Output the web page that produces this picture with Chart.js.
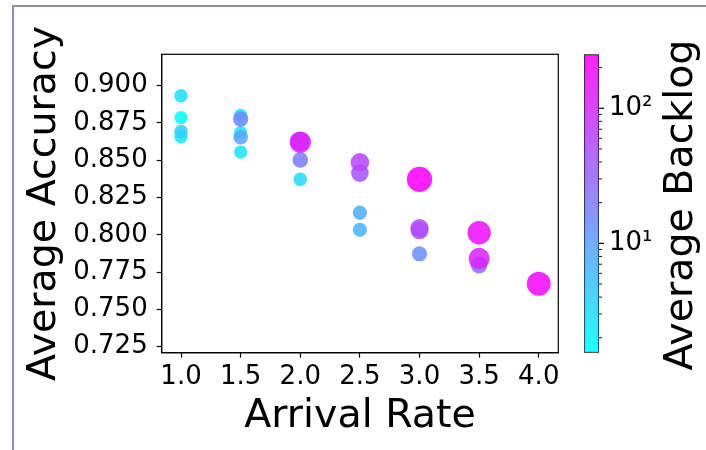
<!DOCTYPE html>
<html>
<head>
<meta charset="utf-8">
<script src="https://cdn.jsdelivr.net/npm/chart.js@4"></script>
<style>
html,body{margin:0;padding:0;background:#fff;}
#wrap{position:relative;width:706px;height:450px;overflow:hidden;background:#fff;}
#frame{position:absolute;left:12px;top:5px;width:720px;height:470px;border-left:2px solid #8a93a5;border-top:2px solid #8a93a5;}
canvas{position:absolute;left:0;top:0;}
</style>
</head>
<body>
<div id="wrap">
<div id="frame"></div>
<canvas id="main" width="706" height="450"></canvas>
<canvas id="cbar" width="706" height="450"></canvas>
</div>
<script>
// ---- data ----
const arrivalRate = [1.0, 1.5, 1.0, 1.5, 1.5, 1.0, 2.0, 1.0, 2.5, 2.5, 1.5, 3.0, 1.5, 2.0, 3.5, 2.5, 3.0, 3.0, 2.5, 2.0, 3.5, 2.0, 3.5, 4.0, 3.0];
const accuracy    = [0.8786, 0.8801, 0.8658, 0.8685, 0.8555, 0.8933, 0.8372, 0.8692, 0.8034, 0.8148, 0.8654, 0.7873, 0.8777, 0.8502, 0.7798, 0.8414, 0.8030, 0.8045, 0.8486, 0.8625, 0.7842, 0.8622, 0.8014, 0.7672, 0.8372];
const backlog     = [1.55, 2.2, 2.6, 2.6, 2.6, 3.0, 3.2, 3.8, 6.8, 7.5, 9.0, 14, 16, 20, 33, 45, 48, 55, 60, 70, 118, 125, 180, 200, 251];

const xTickValues = [1.0, 1.5, 2.0, 2.5, 3.0, 3.5, 4.0];
const yTickValues = [0.725, 0.750, 0.775, 0.800, 0.825, 0.850, 0.875, 0.900];
const cbarMajor = [10, 100];
const cbarMinor = [2, 3, 4, 5, 6, 7, 8, 9, 20, 30, 40, 50, 60, 70, 80, 90, 200];
const cbarLabels = {10: '10¹', 100: '10²'};

const xTitle = 'Arrival Rate';
const yTitle = 'Average Accuracy';
const cTitle = 'Average Backlog';

// ---- styling helpers ----
const FAM = "'DejaVu Sans', sans-serif";
const ALPHA = 0.88;
const vmin = Math.min(...backlog), vmax = Math.max(...backlog);
function coolColor(v, a) {
  let t = (Math.log(v) - Math.log(vmin)) / (Math.log(vmax) - Math.log(vmin));
  t = Math.max(0, Math.min(1, t));
  return `rgba(${Math.round(255 * t)},${Math.round(255 * (1 - t))},255,${a})`;
}
function radiusFor(v) { return 6 + 0.42 * Math.sqrt(v); }

const frameBox = {
  id: 'frameBox',
  afterDraw(chart) {
    const {ctx, chartArea: a} = chart;
    ctx.save();
    ctx.strokeStyle = '#000';
    ctx.lineWidth = 1.2;
    ctx.strokeRect(a.left, a.top, a.right - a.left, a.bottom - a.top);
    ctx.restore();
  }
};

new Chart(document.getElementById('main'), {
  type: 'scatter',
  data: {
    datasets: [{
      data: arrivalRate.map((x, i) => ({x: x, y: accuracy[i]})),
      backgroundColor: c => coolColor(backlog[c.dataIndex], ALPHA),
      pointRadius: c => radiusFor(backlog[c.dataIndex]),
      pointHoverRadius: c => radiusFor(backlog[c.dataIndex]),
      pointBorderWidth: 0,
      borderWidth: 0
    }]
  },
  options: {
    responsive: false,
    animation: false,
    events: [],
    plugins: {legend: {display: false}, tooltip: {enabled: false}},
    layout: {padding: {top: 54.3, right: 147.7, left: 0, bottom: 0}},
    scales: {
      x: {
        type: 'linear', min: 0.838, max: 4.164,
        afterBuildTicks: s => { s.ticks = xTickValues.map(v => ({value: v})); },
        ticks: {callback: v => Number(v).toFixed(1), font: {family: FAM, size: 26}, color: '#000', padding: 4, maxRotation: 0, autoSkip: false},
        grid: {drawOnChartArea: false, tickLength: 5, tickColor: '#000', tickWidth: 1.2},
        border: {color: '#000', width: 1.2},
        title: {display: true, text: xTitle, color: '#000', font: {family: FAM, size: 39.5, lineHeight: 1.2}, padding: {top: 0, bottom: 9.4}},
        afterFit: s => { s.height = 97.3; }
      },
      y: {
        type: 'linear', min: 0.72098, max: 0.92105,
        afterBuildTicks: s => { s.ticks = yTickValues.map(v => ({value: v})); },
        ticks: {callback: v => Number(v).toFixed(3), font: {family: FAM, size: 26}, color: '#000', padding: 9, autoSkip: false},
        grid: {drawOnChartArea: false, tickLength: 5, tickColor: '#000', tickWidth: 1.2},
        border: {color: '#000', width: 1.2},
        title: {display: true, text: yTitle, color: '#000', font: {family: FAM, size: 39.5, lineHeight: 1.2}, padding: {top: 21, bottom: 0}},
        afterFit: s => { s.width = 161.7; }
      }
    }
  },
  plugins: [frameBox]
});

// ---- colour bar ----
const cbarTicks = {
  id: 'cbarTicks',
  afterDraw(chart) {
    const {ctx, chartArea: a} = chart;
    const sc = chart.scales.y;
    ctx.save();
    ctx.strokeStyle = '#000';
    cbarMajor.forEach(v => {
      const y = sc.getPixelForValue(v);
      ctx.lineWidth = 1.2;
      ctx.beginPath(); ctx.moveTo(a.right, y); ctx.lineTo(a.right + 5, y); ctx.stroke();
    });
    cbarMinor.forEach(v => {
      const y = sc.getPixelForValue(v);
      ctx.lineWidth = 0.9;
      ctx.beginPath(); ctx.moveTo(a.right, y); ctx.lineTo(a.right + 3, y); ctx.stroke();
    });
    // colour-bar title, reading bottom to top
    ctx.translate(a.right + 83, (a.top + a.bottom) / 2 + 1.5);
    ctx.rotate(-Math.PI / 2);
    ctx.fillStyle = '#000';
    ctx.font = `39.5px ${FAM}`;
    ctx.textAlign = 'center';
    ctx.textBaseline = 'middle';
    ctx.fillText(cTitle, 0, 0);
    ctx.restore();
  }
};

new Chart(document.getElementById('cbar'), {
  type: 'bar',
  data: {
    labels: [''],
    datasets: [{
      data: [[vmin, vmax]],
      backgroundColor: c => {
        const a = c.chart.chartArea;
        if (!a) return 'rgba(0,0,0,0)';
        const g = c.chart.ctx.createLinearGradient(0, a.bottom, 0, a.top);
        g.addColorStop(0, coolColor(vmin, ALPHA));
        g.addColorStop(1, coolColor(vmax, ALPHA));
        return g;
      },
      borderColor: '#222',
      borderWidth: 1,
      borderSkipped: false,
      categoryPercentage: 1,
      barPercentage: 1
    }]
  },
  options: {
    responsive: false,
    animation: false,
    events: [],
    plugins: {legend: {display: false}, tooltip: {enabled: false}},
    layout: {padding: {left: 584, top: 54.3, bottom: 97.3, right: 47}},
    scales: {
      x: {display: false},
      y: {
        type: 'logarithmic', position: 'right', min: vmin, max: vmax,
        afterBuildTicks: s => { s.ticks = [...cbarMinor, ...cbarMajor].sort((p, q) => p - q).map(v => ({value: v})); },
        ticks: {autoSkip: false, callback: v => cbarLabels[v] || '', font: {family: FAM, size: 26}, color: '#000', padding: 10},
        grid: {drawOnChartArea: false, drawTicks: false},
        border: {display: false},
        afterFit: s => { s.width = 60; }
      }
    }
  },
  plugins: [cbarTicks]
});
</script>
</body>
</html>
